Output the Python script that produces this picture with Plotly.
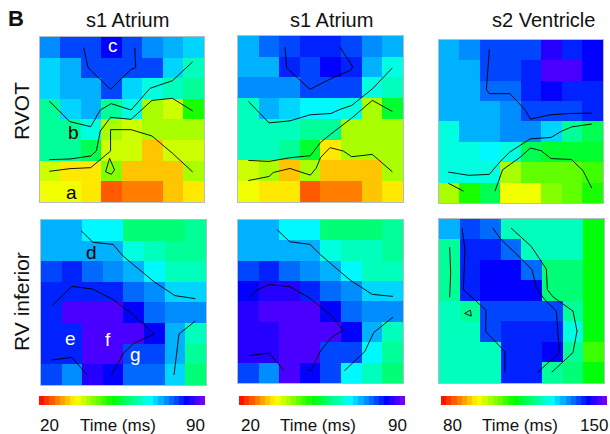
import colorsys
import plotly.graph_objects as go

W, H = 610, 434

# Activation times (ms), 8x8 maps, top row first
rvot_s1_a = [
    [73, 77, 78, 82, 77, 74, 72, 70],
    [70, 72, 78, 78, 78, 77, 70, 63.5],
    [70, 72, 72, 78, 70, 64.6, 63.5, 60.4],
    [60.4, 70, 72, 59.4, 64.6, 40.7, 39, 50],
    [60.4, 60.4, 64.6, 40.7, 39, 40.7, 40.7, 40.7],
    [61.5, 61.5, 56.3, 39, 39, 31.4, 39, 39],
    [39, 33.5, 33.5, 42.8, 31.4, 31.4, 31.4, 39.7],
    [36.6, 36.6, 33.5, 25.2, 27.3, 27.3, 31.4, 33.5],
]
rvot_s1_b = [
    [72, 76, 78, 80, 80, 77, 74, 72],
    [72, 72, 81, 78, 82, 80, 72, 64.6],
    [73, 73, 73, 79, 77, 77, 64.6, 62.5],
    [62.5, 72, 70, 66.7, 66.7, 64.6, 39.7, 53.2],
    [62.5, 62.5, 62.5, 59.4, 59.4, 40.7, 40.7, 40.7],
    [63.5, 63.5, 59.4, 54.2, 33.5, 40.7, 40.7, 40.7],
    [39, 41.8, 32.4, 41.8, 31.4, 31.4, 31.4, 39.7],
    [36.6, 33.5, 33.5, 25.2, 27.3, 27.3, 31.4, 33.5],
]
rvot_s2 = [
    [132, 134, 137, 137, 139, 145, 141, 142],
    [132, 132, 137, 137, 141, 147.4, 147.4, 142],
    [132, 132, 136, 136, 141, 142, 140, 140],
    [132, 132, 132, 134, 139, 139, 139, 141],
    [124.6, 132, 132, 134, 134, 130, 120.4, 115.2],
    [124.6, 124.6, 126.7, 124.6, 116.3, 113.2, 113.2, 113.2],
    [124.6, 124.6, 124.6, 99.7, 106, 106, 106, 108],
    [101.8, 110, 115.2, 95.5, 95.5, 102.8, 106, 109],
]
rvinf_s1_a = [
    [72, 72, 66.7, 66.7, 57.3, 57.3, 57.3, 60.4],
    [72, 72, 72, 72, 64.6, 62.5, 59.4, 60.4],
    [78, 80, 76, 74, 72, 66.7, 62.5, 62.5],
    [81, 81, 80, 81, 76, 74, 70, 70],
    [81, 87.4, 87.4, 87.4, 83, 76, 74, 74],
    [81, 81, 87.4, 87.4, 87.4, 83, 72, 63.5],
    [81, 81, 87.4, 87.4, 77, 79, 72, 61.5],
    [78, 74, 85, 83, 76, 76, 70, 57.3],
]
rvinf_s1_b = [
    [72, 72, 66.7, 66.7, 57.3, 57.3, 57.3, 59.4],
    [72, 72, 72, 72, 64.6, 62.5, 62.5, 59.4],
    [77, 80, 76, 74, 72, 66.7, 63.5, 63.5],
    [83, 85, 85, 81, 76, 74, 70, 70],
    [85, 87.4, 87.4, 87.4, 82, 76, 74, 74],
    [85, 85, 87.4, 87.4, 87.4, 82, 72, 63.5],
    [85, 85, 87.4, 87.4, 78, 78, 66.7, 61.5],
    [78, 74, 87.4, 83, 77, 66.7, 63.5, 57.3],
]
rvinf_s2 = [
    [132, 138, 136, 122.5, 122.5, 122.5, 122.5, 112],
    [120.4, 140, 140, 136, 122.5, 122.5, 122.5, 112],
    [120.4, 140, 142, 142, 136, 118.3, 118.3, 112],
    [120.4, 141, 142, 142, 142, 118.3, 118.3, 112],
    [123.5, 120.4, 139, 139, 139, 139, 121.5, 112],
    [123.5, 123.5, 139, 141, 141, 141, 124.6, 112],
    [123.5, 123.5, 123.5, 141, 141, 143, 121.5, 108],
    [123.5, 123.5, 123.5, 141, 141, 121.5, 117.3, 112],
]

# Isochrone lines, in 0-1 panel units x 495 (origin top-left)
lines_p1 = [
    ([132, 145, 213, 275, 289, 286], [32, 92, 157, 97, 92, 32]),
    ([28, 90, 153, 182, 215, 275, 332, 400, 461], [192, 254, 269, 219, 200, 219, 154, 131, 74]),
    ([28, 90, 153, 170, 182, 213, 275, 338, 400, 461], [368, 366, 357, 342, 282, 241, 247, 190, 184, 222]),
    ([28, 90, 153, 213, 213, 275, 338, 400, 461], [403, 395, 392, 342, 278, 278, 297, 349, 405]),
    ([210, 198, 215, 225, 210], [364, 404, 412, 399, 364]),
]
lines_p2 = [
    ([141, 146, 216, 279, 338, 344, 306], [33, 95, 159, 127, 102, 92, 33]),
    ([31, 93, 156, 216, 279, 306, 341, 404, 463], [195, 259, 253, 235, 231, 219, 207, 157, 95]),
    ([31, 93, 156, 217, 248, 279, 341, 403, 463], [371, 374, 363, 357, 317, 292, 245, 192, 225]),
    ([31, 93, 106, 156, 217, 234, 248, 276, 316, 341, 403, 463],
     [431, 419, 407, 395, 415, 395, 362, 333, 343, 360, 353, 405]),
]
lines_p3 = [
    ([152, 143, 152, 214, 245, 261, 276, 338, 400, 461], [28, 151, 163, 163, 196, 214, 240, 227, 223, 222]),
    ([28, 90, 152, 183, 214, 276, 338, 368, 400, 461], [401, 411, 408, 371, 340, 300, 296, 278, 264, 255]),
    ([28, 74], [435, 459]),
    ([169, 192, 245, 276, 308, 338, 400, 435, 461], [459, 394, 356, 328, 336, 360, 363, 397, 450]),
]
lines_p4 = [
    ([120, 156, 216, 247, 340, 402, 463], [32, 67, 73, 109, 186, 227, 236]),
    ([32, 93, 154, 216, 278, 340, 278, 247, 211], [258, 199, 207, 238, 286, 342, 370, 400, 466]),
    ([32, 93, 138], [420, 412, 465]),
    ([399, 414, 463], [465, 342, 303]),
]
lines_p5 = [
    ([118, 155, 216, 247, 310, 340, 403, 465], [30, 66, 74, 105, 160, 185, 226, 232]),
    ([33, 60, 93, 155, 216, 247, 280, 315, 280, 247, 220, 211],
     [236, 211, 196, 202, 238, 262, 290, 335, 357, 398, 455, 457]),
    ([33, 93, 138], [412, 404, 457]),
    ([319, 380, 407, 465], [458, 400, 342, 295]),
]
lines_p6 = [
    ([69, 78, 73, 141, 140, 198, 198], [27, 93, 213, 275, 339, 401, 463]),
    ([161, 187, 248, 279, 292, 317, 352, 361, 296], [27, 63, 121, 153, 208, 243, 278, 403, 463]),
    ([216, 277, 322, 325, 342, 402, 414, 402, 338], [27, 83, 151, 213, 235, 278, 338, 403, 463]),
    ([32, 35, 32], [85, 163, 236]),
    ([77, 94, 97, 77], [285, 275, 293, 285]),
]

panel_titles = ["s1 Atrium", "s1 Atrium", "s2 Ventricle"]
row_titles = ["RVOT", "RV inferior"]
scale_ends = [(20, 90), (20, 90), (80, 150)]
scale_label = "Time (ms)"
letters = [("c", 113, 46, "white"), ("b", 73, 132, "black"), ("a", 71, 192, "black"),
           ("d", 91, 252, "black"), ("e", 70, 338, "white"), ("f", 108, 339, "white"),
           ("g", 135, 354, "white")]

# px boxes: left, right, top, bottom
boxes = [(40, 204, 37, 202), (238, 403, 36, 202), (439, 603, 40, 203),
         (41, 206, 220, 385), (238, 403, 220, 383), (439, 604, 219, 383)]
maps = [rvot_s1_a, rvot_s1_b, rvot_s2, rvinf_s1_a, rvinf_s1_b, rvinf_s2]
all_lines = [lines_p1, lines_p2, lines_p3, lines_p4, lines_p5, lines_p6]
bars = [(39, 205), (239, 405), (441, 607)]

# stepped red-to-violet palette; each step's centre keeps hue proportional to time
STEPS = 32
scale = []
for i in range(STEPS):
    r, g, b = colorsys.hsv_to_rgb((i + 0.5) / STEPS * 270 / 360, 1, 1)
    col = f"rgb({round(r*255)},{round(g*255)},{round(b*255)})"
    scale += [[i / STEPS, col], [(i + 1) / STEPS, col]]

fig = go.Figure()
layout = {}
for k, (box, z, lines) in enumerate(zip(boxes, maps, all_lines)):
    s = "" if k == 0 else str(k + 1)
    l, r, t, b = box
    layout[f"xaxis{s}"] = dict(domain=[l / W, r / W], range=[0, 495], visible=True, showgrid=False, zeroline=False,
                               showticklabels=False, ticks="", showline=True, mirror=True, linecolor="#b4bcc4",
                               linewidth=1, anchor=f"y{s}", fixedrange=True)
    layout[f"yaxis{s}"] = dict(domain=[1 - b / H, 1 - t / H], range=[495, 0], showgrid=False, zeroline=False,
                               showticklabels=False, ticks="", showline=True, mirror=True, linecolor="#b4bcc4",
                               linewidth=1, anchor=f"x{s}", fixedrange=True)
    ca = (k % 3) + 1
    fig.add_trace(go.Heatmap(
        z=z, x=[30.9 + 61.875 * i for i in range(8)], y=[30.9 + 61.875 * i for i in range(8)],
        coloraxis=f"coloraxis{'' if ca == 1 else ca}", xaxis=f"x{s}", yaxis=f"y{s}",
        zsmooth=False, hoverinfo="skip"))
    for xs, ys in lines:
        fig.add_trace(go.Scatter(x=xs, y=ys, mode="lines", line=dict(color="black", width=0.9),
                                 xaxis=f"x{s}", yaxis=f"y{s}", showlegend=False, hoverinfo="skip"))

for i, ((lo, hi), (x0, x1)) in enumerate(zip(scale_ends, bars)):
    key = "coloraxis" if i == 0 else f"coloraxis{i + 1}"
    layout[key] = dict(cmin=lo, cmax=hi, colorscale=scale, colorbar=dict(
        orientation="h", x=x0 / W, xanchor="left", y=1 - 405 / H, yanchor="bottom",
        len=(x1 - x0) / W, lenmode="fraction", thickness=9, thicknessmode="pixels",
        outlinewidth=0, borderwidth=0, xpad=0, ypad=0, showticklabels=False, ticks=""))


def note(text, px, py, size=17, color="#111111", rot=0, weight=None):
    return dict(text=f"<b>{text}</b>" if weight else text, x=px / W, y=1 - py / H, xref="paper", yref="paper",
                showarrow=False, xanchor="center", yanchor="middle", textangle=rot,
                font=dict(family="Liberation Sans", size=size, color=color))


notes = [note("B", 16, 18, size=22, weight=True)]
for txt, px in zip(panel_titles, (127, 331, 543)):
    notes.append(note(txt, px, 20, size=20))
for txt, py in zip(row_titles, (111, 302)):
    notes.append(note(txt, 21, py, size=21, rot=-90))
for (lo, hi), (a, c, e) in zip(scale_ends, ((50, 118, 195), (250, 318, 397), (452, 520, 594))):
    notes.append(note(str(lo), a, 425, size=17))
    notes.append(note(scale_label, c, 425, size=17))
    notes.append(note(str(hi), e, 425, size=17))
for ch, px, py, colr in letters:
    notes.append(note(ch, px, py, size=19, color=colr))

fig.update_layout(width=W, height=H, margin=dict(l=0, r=0, t=0, b=0), paper_bgcolor="white",
                  plot_bgcolor="white", showlegend=False, annotations=notes, **layout)

fig.write_html("out.html", post_script="document.body.style.margin='0';", config={"displayModeBar": False})
